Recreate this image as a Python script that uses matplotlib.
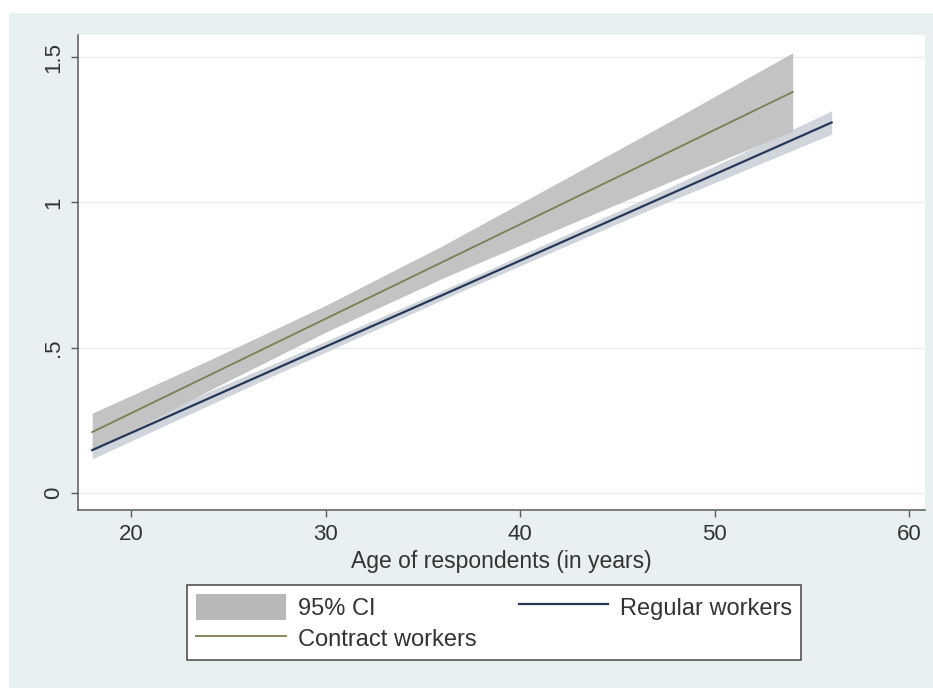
import matplotlib
matplotlib.use("Agg")
import matplotlib.pyplot as plt
from matplotlib.patches import Rectangle, Patch
from matplotlib.lines import Line2D

plt.rcParams["font.family"] = ["Liberation Sans", "DejaVu Sans"]

# Fitted values and 95% CI by age, read at a few ages along each fit
contract_age = [18, 24, 30, 36, 42, 48, 54]
contract_fit = [0.21, 0.405, 0.60, 0.795, 0.99, 1.185, 1.38]
contract_lo = [0.145, 0.353, 0.554, 0.739, 0.91, 1.08, 1.245]
contract_hi = [0.275, 0.457, 0.646, 0.851, 1.07, 1.29, 1.515]

regular_age = [18, 27.5, 37, 46.5, 56]
regular_fit = [0.148, 0.430, 0.711, 0.993, 1.275]
regular_lo = [0.118, 0.41, 0.695, 0.971, 1.235]
regular_hi = [0.178, 0.45, 0.727, 1.015, 1.315]

x_ticks = [20, 30, 40, 50, 60]
y_ticks = [0, 0.5, 1, 1.5]
y_labels = ["0", ".5", "1", "1.5"]

fig = plt.figure(figsize=(9.33, 6.88), dpi=100, facecolor="white")

# graph region background
fig.patches.append(Rectangle((9 / 933, 0), 1, 1 - 13 / 688, transform=fig.transFigure,
                             facecolor="#e9f0f2", edgecolor="none", zorder=-10))

ax = fig.add_axes([78 / 933, 1 - 510 / 688, (925 - 78) / 933, (510 - 35) / 688])
ax.set_facecolor("white")

ax.fill_between(regular_age, regular_lo, regular_hi, color="#d0d4db", lw=0, zorder=1)
ax.fill_between(contract_age, contract_lo, contract_hi, color="#c3c3c3", lw=0, zorder=2)
ax.plot(contract_age, contract_fit, color="#7d7d52", lw=1.3, zorder=3)
ax.plot(regular_age, regular_fit, color="#26385a", lw=1.6, zorder=4)

ax.set_xlim(17.27, 60.8)
ax.set_ylim(-0.058, 1.576)
ax.set_xticks(x_ticks)
ax.set_yticks(y_ticks)
ax.set_yticklabels(y_labels, rotation=90, va="center")
ax.grid(axis="y", color="#ececec", lw=1)
ax.set_axisbelow(True)

for side in ["top", "right"]:
    ax.spines[side].set_visible(False)
for side in ["left", "bottom"]:
    ax.spines[side].set_color("#5a5a5a")
    ax.spines[side].set_linewidth(1.1)
ax.tick_params(axis="both", length=5, width=1, color="#5a5a5a", labelsize=16,
               labelcolor="#333333", pad=5)

ax.set_xlabel("Age of respondents (in years)", fontsize=16.5, color="#333333", labelpad=4)

handles = [
    Patch(facecolor="#b8b8b8", edgecolor="none"),
    Line2D([], [], color="#7d7d52", lw=1.3),
    Line2D([], [], color="#26385a", lw=1.6),
]
labels = ["95% CI", "Contract workers", "Regular workers"]
leg = fig.legend(handles, labels, ncol=2, loc="upper left",
                 bbox_to_anchor=(187 / 933, 1 - 585 / 688),
                 fontsize=17, frameon=True, fancybox=False, framealpha=1,
                 handlelength=3.8, handleheight=1.3, handletextpad=0.5,
                 columnspacing=1.8, labelspacing=0.25, borderpad=0.38,
                 borderaxespad=0)
leg.get_frame().set_edgecolor("#444444")
leg.get_frame().set_facecolor("white")
leg.get_frame().set_linewidth(1.1)
for t in leg.get_texts():
    t.set_color("#333333")

fig.savefig("out.png", dpi=100)
